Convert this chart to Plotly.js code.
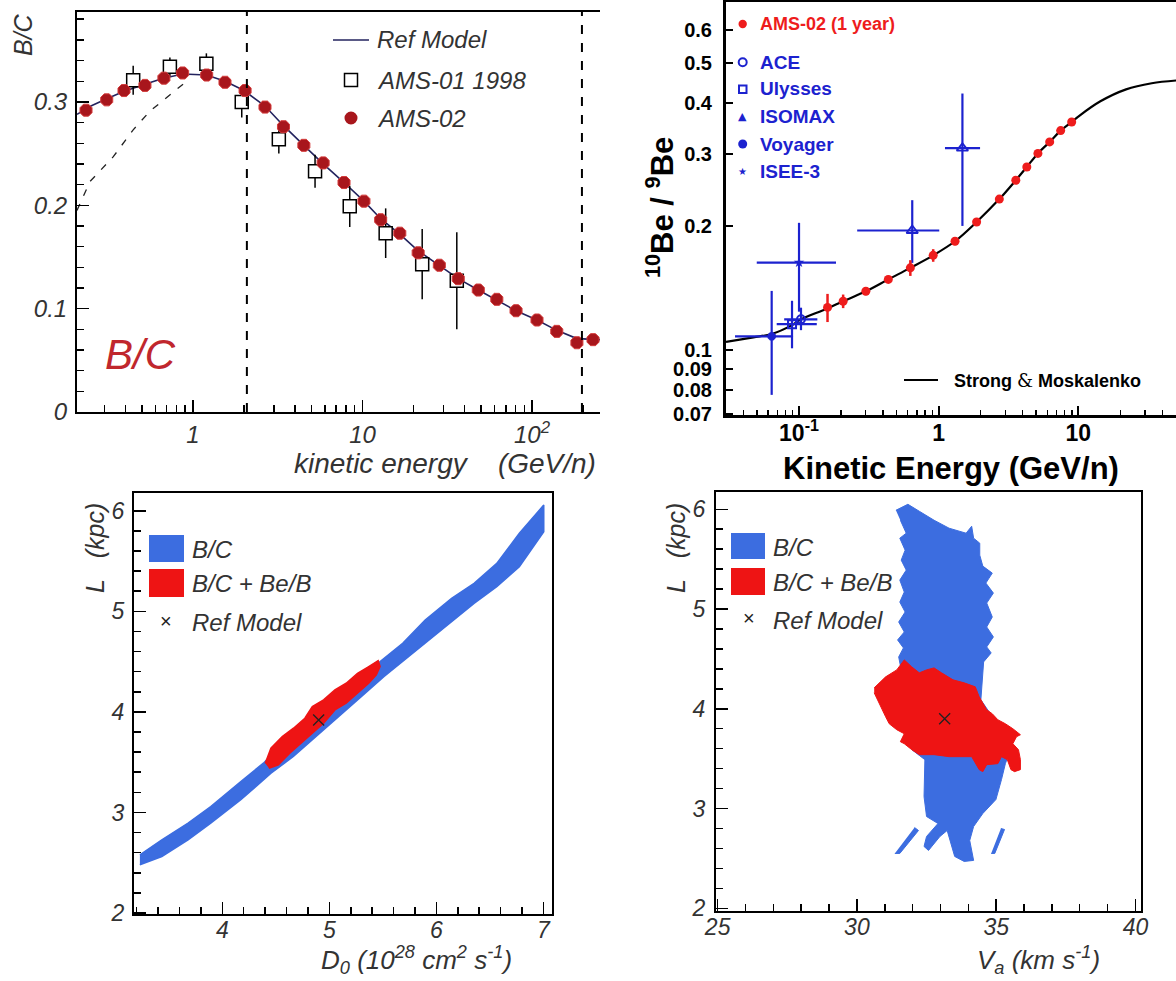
<!DOCTYPE html>
<html><head><meta charset="utf-8">
<script src="https://cdn.plot.ly/plotly-3.0.1.min.js"></script>
<style>html,body{margin:0;padding:0;background:#fff;}#chart{width:1176px;height:981px;}</style>
</head><body><div id="chart"></div>
<script>
// ---------------- Panel 1: B/C vs kinetic energy ----------------
const ams02E  = [0.234,0.310,0.392,0.521,0.674,0.869,1.205,1.545,2.03,2.66,3.42,4.51,5.86,7.78,10.2,12.8,16.6,21.3,28.4,36.7,48.2,62,80.5,107,140,184,229];
const ams02BC = [0.292,0.302,0.311,0.316,0.323,0.328,0.326,0.319,0.311,0.295,0.276,0.258,0.241,0.222,0.204,0.186,0.173,0.154,0.142,0.129,0.118,0.109,0.098,0.089,0.078,0.067,0.070];
const ams01E   = [0.444,0.731,1.20,1.94,3.21,5.25,8.41,13.7,22.5,36.0];
const ams01BC  = [0.321,0.334,0.337,0.300,0.264,0.233,0.199,0.173,0.143,0.127];
const ams01Err = [0.014,0.009,0.010,0.015,0.014,0.016,0.020,0.024,0.034,0.047];
const refE  = [0.207,0.25,0.31,0.39,0.52,0.67,0.87,1.2,1.55,2.0,2.66,3.42,4.51,5.86,7.78,10.2,12.8,16.6,21.3,28.4,36.7,48.2,62,80.5,107,140,184,252];
const refBC = [0.288,0.296,0.303,0.310,0.317,0.323,0.327,0.326,0.320,0.311,0.296,0.277,0.258,0.240,0.222,0.204,0.187,0.172,0.156,0.142,0.129,0.118,0.108,0.098,0.089,0.079,0.071,0.070];
const lisE  = [0.207,0.220,0.247,0.339,0.444,0.557,0.765,0.95];
const lisBC = [0.195,0.205,0.223,0.247,0.273,0.291,0.310,0.322];
const bcCutE = [2.08, 197];
const p1XTicks = [1,10,100], p1XText = ['1','10','10<sup>2</sup>'];
const p1XMinor = [0.3,0.4,0.5,0.6,0.7,0.8,0.9,2,3,4,5,6,7,8,9,20,30,40,50,60,70,80,90,200];
const p1YTicks = [0,0.1,0.2,0.3], p1YText = ['0','0.1','0.2','0.3'];

// ---------------- Panel 2: 10Be/9Be ----------------
const smE     = [0.030,0.0471,0.0637,0.0891,0.1033,0.158,0.207,0.301,0.436,0.627,0.914,1.31,1.87,2.72,3.57,4.28,5.14,6.24,7.48,8.97,10,14.4,22.0,33.6,50.7];
const smRatio = [0.1047,0.1074,0.1094,0.115,0.1188,0.126,0.1315,0.139,0.1486,0.1585,0.170,0.184,0.205,0.233,0.259,0.279,0.301,0.321,0.342,0.359,0.370,0.403,0.431,0.446,0.453];
const amsBeE   = [0.160,0.207,0.301,0.436,0.627,0.914,1.31,1.87,2.72,3.57,4.28,5.14,6.24,7.48,8.97];
const amsBeR   = [0.127,0.1315,0.139,0.1486,0.1585,0.170,0.184,0.205,0.233,0.259,0.279,0.301,0.321,0.342,0.359];
const amsBeErr = [0.010,0.005,0.003,0.003,0.007,0.006,0.004,0.004,0.003,0.003,0.003,0.003,0.003,0.003,0.003];
const aceE = [0.1033], aceEm = [0.025], aceEp = [0.032], aceR = [0.1188], aceRp = [0.008], aceRm = [0.007];
const ulyE = [0.0891], ulyEm = [0.0199], ulyEp = [0.0449], ulyR = [0.1156], ulyRp = [0.0162], ulyRm = [0.0146];
const isoE = [0.647,1.48], isoEm = [0.386,0.37], isoEp = [0.363,0.50], isoR = [0.1954,0.310], isoRp = [0.0362,0.111], isoRm = [0.0324,0.1095];
const voyE = [0.0637], voyEm = [0.0289], voyEp = [0.0269], voyR = [0.108], voyRp = [0.0313], voyRm = [0.0302];
const iseE = [0.100], iseEm = [0.0502], iseEp = [0.084], iseR = [0.1633], iseRp = [0.0407], iseRm = [0.0393];
const p2XTicks = [0.1,1,10], p2XText = ['10<sup>-1</sup>','1','10'];
const p2XMinor = [0.04,0.05,0.06,0.07,0.08,0.09,0.2,0.3,0.4,0.5,0.6,0.7,0.8,0.9,2,3,4,5,6,7,8,9,20,30,40,50];
const p2YTicks = [0.07,0.08,0.09,0.1,0.2,0.3,0.4,0.5,0.6], p2YText = ['0.07','0.08','0.09','0.1','0.2','0.3','0.4','0.5','0.6'];

// ---------------- Panel 3: L vs D0 ----------------
const bandD = [3.230,3.435,3.680,3.892,4.173,4.384,4.594,4.806,5.017,5.263,5.474,5.685,5.895,6.142,6.352,6.564,6.775,7.003,
               7.003,6.775,6.564,6.352,6.142,5.931,5.720,5.509,5.298,5.087,4.876,4.664,4.455,4.173,3.892,3.680,3.435,3.230];
const bandL = [2.579,2.728,2.894,3.059,3.308,3.490,3.722,3.920,4.152,4.351,4.500,4.683,4.914,5.130,5.279,5.477,5.776,6.057,
               5.791,5.444,5.245,5.080,4.897,4.715,4.534,4.351,4.152,3.953,3.755,3.556,3.391,3.126,2.894,2.728,2.562,2.480];
const redD = [4.401,4.454,4.560,4.665,4.771,4.841,4.946,5.052,5.157,5.263,5.368,5.456,5.474,5.439,5.368,5.263,5.157,5.052,4.946,4.841,4.735,4.630,4.524,4.436];
const redL = [3.490,3.639,3.755,3.838,3.937,4.053,4.119,4.219,4.285,4.384,4.451,4.510,4.451,4.368,4.285,4.186,4.086,4.020,3.887,3.788,3.689,3.589,3.474,3.440];
const refD = [4.90], refLD = [3.92];

// ---------------- Panel 4: L vs Va ----------------
const blueVa = [31.40,31.83,32.24,32.77,33.31,33.92,34.12,34.19,34.41,34.41,34.52,34.86,34.63,34.90,34.66,34.86,34.66,34.90,34.66,34.82,34.55,34.49,34.45,34.79,35.40,35.46,35.33,35.19,34.99,34.52,34.19,34.05,34.19,33.85,33.51,33.24,32.98,32.57,32.41,32.50,32.91,32.50,32.41,32.44,31.97,31.59,31.50,31.67,31.46,31.70,31.50,31.73,31.54,31.70,31.54,31.77,31.59,31.73,31.54,31.77,31.56,
                null,31.36,31.54,32.21,32.07,
                null,34.82,34.95,35.30,35.17];
const blueLV = [5.99,6.05,5.98,5.89,5.81,5.76,5.83,5.71,5.66,5.54,5.43,5.36,5.26,5.16,5.06,4.92,4.82,4.72,4.62,4.56,4.47,4.26,4.09,3.95,3.72,3.55,3.45,3.29,3.09,2.95,2.82,2.68,2.48,2.47,2.52,2.78,2.72,2.58,2.62,2.72,2.85,2.92,3.12,3.49,3.59,4.39,4.52,4.61,4.69,4.77,4.87,4.97,5.07,5.17,5.29,5.39,5.49,5.59,5.71,5.76,5.89,
                null,2.55,2.55,2.78,2.81,
                null,2.55,2.55,2.79,2.80];
const redVa = [30.62,31.03,31.43,31.70,31.97,32.24,32.50,32.77,33.04,33.45,33.85,34.25,34.39,34.52,34.66,34.86,35.06,35.33,35.60,35.87,35.73,35.60,35.80,35.87,35.87,35.66,35.53,35.40,35.19,35.06,34.66,34.52,34.39,34.12,33.71,33.31,32.77,32.24,31.97,31.70,31.56,31.70,31.43,31.16,31.03,30.82,30.62];
const redLV = [4.21,4.32,4.39,4.49,4.42,4.36,4.39,4.41,4.36,4.29,4.26,4.22,4.12,4.05,3.99,3.95,3.89,3.85,3.80,3.74,3.72,3.65,3.59,3.49,3.39,3.37,3.39,3.49,3.52,3.45,3.44,3.37,3.39,3.52,3.52,3.52,3.54,3.54,3.59,3.65,3.67,3.75,3.79,3.85,3.92,4.05,4.16];
const refVa = [33.15], refLV = [3.90];

// ---------------- layout helpers ----------------
const W = 1176, H = 981;
const fx = p => p / W, fy = p => 1 - p / H;
const FONT = 'Liberation Sans, Arial, sans-serif';
const BLUE = '#3c6de0', RED = '#ee1414', DBLUE = '#1c22cf', AMSRED = '#ee1c1c';

function ax(o) {
  return Object.assign({showline:true, linecolor:'black', linewidth:2, ticks:'inside', tickcolor:'black',
    tickwidth:1.5, showgrid:false, zeroline:false, fixedrange:true, tickmode:'array'}, o);
}
const itFont = (s, c) => ({family:FONT, size:s, color:c || '#333', style:'italic'});
const bdFont = (s, c) => ({family:FONT, size:s, color:c || 'black', weight:'bold'});
function ann(text, x, y, font, extra) {
  return Object.assign({text:text, x:fx(x), y:fy(y), xref:'paper', yref:'paper', showarrow:false,
    xanchor:'left', yanchor:'middle', font:font}, extra || {});
}
function rect(x0, y0, x1, y1, fill, line) {
  return {type:'rect', xref:'paper', yref:'paper', x0:fx(x0), x1:fx(x1), y0:fy(y1), y1:fy(y0),
    fillcolor:fill, line:line || {width:0}};
}
function circ(cx, cy, r, fill, line) {
  return {type:'circle', xref:'paper', yref:'paper', x0:fx(cx-r), x1:fx(cx+r), y0:fy(cy+r), y1:fy(cy-r),
    fillcolor:fill, line:line || {width:0}};
}
function hline(x0, x1, y, color, w) {
  return {type:'line', xref:'paper', yref:'paper', x0:fx(x0), x1:fx(x1), y0:fy(y), y1:fy(y), line:{color:color, width:w}};
}

const errBlue = (plus, minus) => ({type:'data', symmetric:false, array:plus, arrayminus:minus, color:DBLUE, thickness:2.2, width:0, visible:true});

const traces = [
  // panel 1
  {x:lisE, y:lisBC, xaxis:'x', yaxis:'y', mode:'lines', line:{color:'#222', width:1.3, dash:'7px,9px'}},
  {x:refE, y:refBC, xaxis:'x', yaxis:'y', mode:'lines', line:{color:'#23235e', width:1.6}},
  {x:ams01E, y:ams01BC, xaxis:'x', yaxis:'y', mode:'markers',
   marker:{symbol:'square', size:13, color:'white', line:{color:'black', width:1.5}},
   error_y:{type:'data', array:ams01Err, color:'black', thickness:1.5, width:0, visible:true}},
  {x:ams02E, y:ams02BC, xaxis:'x', yaxis:'y', mode:'markers',
   marker:{symbol:'octagon', size:13, color:'#a8161c', line:{color:'#d43b3b', width:1}}},
  // panel 2
  {x:smE, y:smRatio, xaxis:'x2', yaxis:'y2', mode:'lines', line:{color:'black', width:2.2, shape:'spline'}},
  {x:iseE, y:iseR, xaxis:'x2', yaxis:'y2', mode:'markers', marker:{symbol:'star', size:8, color:DBLUE},
   error_x:errBlue(iseEp, iseEm), error_y:errBlue(iseRp, iseRm)},
  {x:voyE, y:voyR, xaxis:'x2', yaxis:'y2', mode:'markers', marker:{symbol:'octagon', size:9, color:DBLUE},
   error_x:errBlue(voyEp, voyEm), error_y:errBlue(voyRp, voyRm)},
  {x:ulyE, y:ulyR, xaxis:'x2', yaxis:'y2', mode:'markers', marker:{symbol:'square-open', size:8, color:DBLUE, line:{width:2}},
   error_x:errBlue(ulyEp, ulyEm), error_y:errBlue(ulyRp, ulyRm)},
  {x:aceE, y:aceR, xaxis:'x2', yaxis:'y2', mode:'markers', marker:{symbol:'circle-open', size:8, color:DBLUE, line:{width:2}},
   error_x:errBlue(aceEp, aceEm), error_y:errBlue(aceRp, aceRm)},
  {x:isoE, y:isoR, xaxis:'x2', yaxis:'y2', mode:'markers', marker:{symbol:'triangle-up-open', size:10, color:DBLUE, line:{width:1.8}},
   error_x:errBlue(isoEp, isoEm), error_y:errBlue(isoRp, isoRm)},
  {x:amsBeE, y:amsBeR, xaxis:'x2', yaxis:'y2', mode:'markers', marker:{symbol:'circle', size:9, color:AMSRED},
   error_y:{type:'data', array:amsBeErr, color:AMSRED, thickness:2.5, width:0, visible:true}},
  // panel 3
  {x:bandD, y:bandL, xaxis:'x3', yaxis:'y3', mode:'lines', fill:'toself', fillcolor:BLUE, line:{width:1.5, color:BLUE}},
  {x:redD, y:redL, xaxis:'x3', yaxis:'y3', mode:'lines', fill:'toself', fillcolor:RED, line:{width:1.5, color:RED}},
  {x:refD, y:refLD, xaxis:'x3', yaxis:'y3', mode:'markers', marker:{symbol:'x-thin', size:11, line:{width:1.3, color:'#222'}}},
  // panel 4
  {x:blueVa, y:blueLV, xaxis:'x4', yaxis:'y4', mode:'lines', fill:'toself', fillcolor:BLUE, line:{width:1, color:BLUE}},
  {x:redVa, y:redLV, xaxis:'x4', yaxis:'y4', mode:'lines', fill:'toself', fillcolor:RED, line:{width:1, color:RED}},
  {x:refVa, y:refLV, xaxis:'x4', yaxis:'y4', mode:'markers', marker:{symbol:'x-thin', size:11, line:{width:1.3, color:'#222'}}}
];

const layout = {
  width:W, height:H, margin:{l:0, r:0, t:0, b:0}, showlegend:false,
  paper_bgcolor:'white', plot_bgcolor:'white', font:{family:FONT},
  // panel 1
  xaxis: ax({domain:[fx(77), fx(600)], anchor:'y', type:'log', range:[-0.684, 2.401], mirror:true,
    tickvals:p1XTicks, ticktext:p1XText, ticklen:12, tickfont:itFont(24), ticklabelstandoff:0,
    minor:{tickmode:'array', tickvals:p1XMinor, ticks:'inside', ticklen:7, tickwidth:1.5, tickcolor:'black'}}),
  yaxis: ax({domain:[fy(412), fy(12)], anchor:'x', range:[0, 0.387],
    tickvals:p1YTicks, ticktext:p1YText, ticklen:12, tickfont:itFont(24), ticklabelstandoff:3,
    minor:{tickmode:'linear', tick0:0, dtick:0.02, ticks:'inside', ticklen:7, tickwidth:1.5, tickcolor:'black'}}),
  // panel 2
  xaxis2: ax({domain:[fx(726), 1], anchor:'y2', type:'log', range:[-1.523, 1.70], mirror:true, linewidth:3,
    tickvals:p2XTicks, ticktext:p2XText, ticklen:9, tickwidth:2, tickfont:bdFont(23), ticklabelstandoff:-5,
    minor:{tickmode:'array', tickvals:p2XMinor, ticks:'inside', ticklen:5, tickwidth:1.5, tickcolor:'black'}}),
  yaxis2: ax({domain:[fy(415), fy(2)], anchor:'x2', type:'log', range:[-1.158, -0.153], linewidth:3,
    tickvals:p2YTicks, ticktext:p2YText, ticklen:7, tickwidth:2, tickfont:bdFont(20), ticklabelstandoff:7}),
  // panel 3
  xaxis3: ax({domain:[fx(134), fx(552)], anchor:'y3', range:[3.175, 7.08], mirror:true,
    tickvals:[4,5,6,7], ticktext:['4','5','6','7'], ticklen:12, tickfont:itFont(23), ticklabelstandoff:-6,
    minor:{tickmode:'linear', tick0:0, dtick:0.2, ticks:'inside', ticklen:7, tickwidth:1.5, tickcolor:'black'}}),
  yaxis3: ax({domain:[fy(914), fy(492.7)], anchor:'x3', range:[1.99, 6.18], mirror:true,
    tickvals:[2,3,4,5,6], ticktext:['2','3','4','5','6'], ticklen:12, tickfont:itFont(23), ticklabelstandoff:3,
    minor:{tickmode:'linear', tick0:0, dtick:0.2, ticks:'inside', ticklen:7, tickwidth:1.5, tickcolor:'black'}}),
  // panel 4
  xaxis4: ax({domain:[fx(716), fx(1141)], anchor:'y4', range:[24.94, 40.2], mirror:true,
    tickvals:[25,30,35,40], ticktext:['25','30','35','40'], ticklen:12, tickfont:itFont(23), ticklabelstandoff:-6,
    minor:{tickmode:'linear', tick0:0, dtick:1, ticks:'inside', ticklen:7, tickwidth:1.5, tickcolor:'black'}}),
  yaxis4: ax({domain:[fy(911), fy(491.7)], anchor:'x4', range:[1.973, 6.176], mirror:true,
    tickvals:[2,3,4,5,6], ticktext:['2','3','4','5','6'], ticklen:12, tickfont:itFont(23), ticklabelstandoff:4,
    minor:{tickmode:'linear', tick0:0, dtick:0.2, ticks:'inside', ticklen:7, tickwidth:1.5, tickcolor:'black'}}),
  shapes: [
    // panel 1 energy-range markers
    {type:'line', xref:'x', yref:'y domain', x0:bcCutE[0], x1:bcCutE[0], y0:0, y1:1, line:{color:'black', width:2, dash:'dash'}},
    {type:'line', xref:'x', yref:'y domain', x0:bcCutE[1], x1:bcCutE[1], y0:0, y1:1, line:{color:'black', width:2, dash:'dash'}},
    // panel 1 legend keys
    hline(333, 369, 40, '#23235e', 1.6),
    rect(344.5, 73.5, 357.5, 86.5, 'white', {color:'black', width:1.5}),
    circ(351, 118, 6.5, '#a8161c'),
    // panel 2 legend keys
    circ(742.7, 24, 4.2, AMSRED),
    circ(742.7, 62.3, 4, 'rgba(0,0,0,0)', {color:DBLUE, width:2}),
    rect(739, 85.5, 746.5, 93, 'rgba(0,0,0,0)', {color:DBLUE, width:2}),
    circ(742.7, 144, 4.5, DBLUE),
    hline(904, 938, 380, 'black', 2),
    // panel 3 legend keys
    rect(149, 535, 184, 562, BLUE), rect(149, 569, 184, 597, RED),
    // panel 4 legend keys
    rect(731, 533, 765, 559, BLUE), rect(731, 568, 765, 595, RED)
  ],
  annotations: [
    // panel 1
    ann('B/C', 23, 35, itFont(25), {xanchor:'center', textangle:-90}),
    ann('kinetic energy&nbsp;&nbsp;&nbsp;&nbsp;(GeV/n)', 598, 463, itFont(28), {xanchor:'right'}),
    ann('B/C', 103, 354, itFont(42, '#c0272d')),
    ann('Ref Model', 375, 40, itFont(24)),
    ann('AMS-01 1998', 375, 80, itFont(24)),
    ann('AMS-02', 375, 118, itFont(24)),
    // panel 2
    ann('<sup>10</sup>Be / <sup>9</sup>Be', 660, 208, bdFont(31), {xanchor:'center', textangle:-90}),
    ann('Kinetic Energy (GeV/n)', 951, 468, bdFont(31), {xanchor:'center'}),
    ann('AMS-02 (1 year)', 758, 24, bdFont(18, AMSRED)),
    ann('ACE', 758, 62, bdFont(19, DBLUE)),
    ann('Ulysses', 758, 89, bdFont(19, DBLUE)),
    ann('\u25B2', 742.7, 116, {family:'DejaVu Sans', size:11, color:DBLUE}, {xanchor:'center'}),
    ann('ISOMAX', 758, 117, bdFont(19, DBLUE)),
    ann('Voyager', 758, 144, bdFont(19, DBLUE)),
    ann('\u2605', 742.7, 171, {family:'DejaVu Sans', size:10, color:DBLUE}, {xanchor:'center'}),
    ann('ISEE-3', 758, 171, bdFont(19, DBLUE)),
    ann('Strong <span style="font-family:DejaVu Serif;font-weight:normal">&amp;</span> Moskalenko', 952, 380, bdFont(18)),
    // panel 3
    ann('L&nbsp;&nbsp;&nbsp;(kpc)', 95, 548, itFont(25), {xanchor:'center', textangle:-90}),
    ann('D<sub>0</sub> (10<sup>28</sup> cm<sup>2</sup> s<sup>-1</sup>)', 416, 960, itFont(26), {xanchor:'center'}),
    ann('B/C', 190, 549, itFont(24)),
    ann('B/C + Be/B', 190, 583, itFont(24)),
    ann('\u00D7', 166, 621, {family:FONT, size:20, color:'#222'}, {xanchor:'center'}),
    ann('Ref Model', 190, 622, itFont(24)),
    // panel 4
    ann('L&nbsp;&nbsp;&nbsp;(kpc)', 676, 548, itFont(25), {xanchor:'center', textangle:-90}),
    ann('V<sub>a</sub> (km s<sup>-1</sup>)', 1038, 960, itFont(26), {xanchor:'center'}),
    ann('B/C', 771, 547, itFont(24)),
    ann('B/C + Be/B', 771, 582, itFont(24)),
    ann('\u00D7', 749, 618, {family:FONT, size:20, color:'#222'}, {xanchor:'center'}),
    ann('Ref Model', 771, 620, itFont(24))
  ]
};

Plotly.newPlot('chart', traces, layout, {displayModeBar:false, staticPlot:true});
</script></body></html>
